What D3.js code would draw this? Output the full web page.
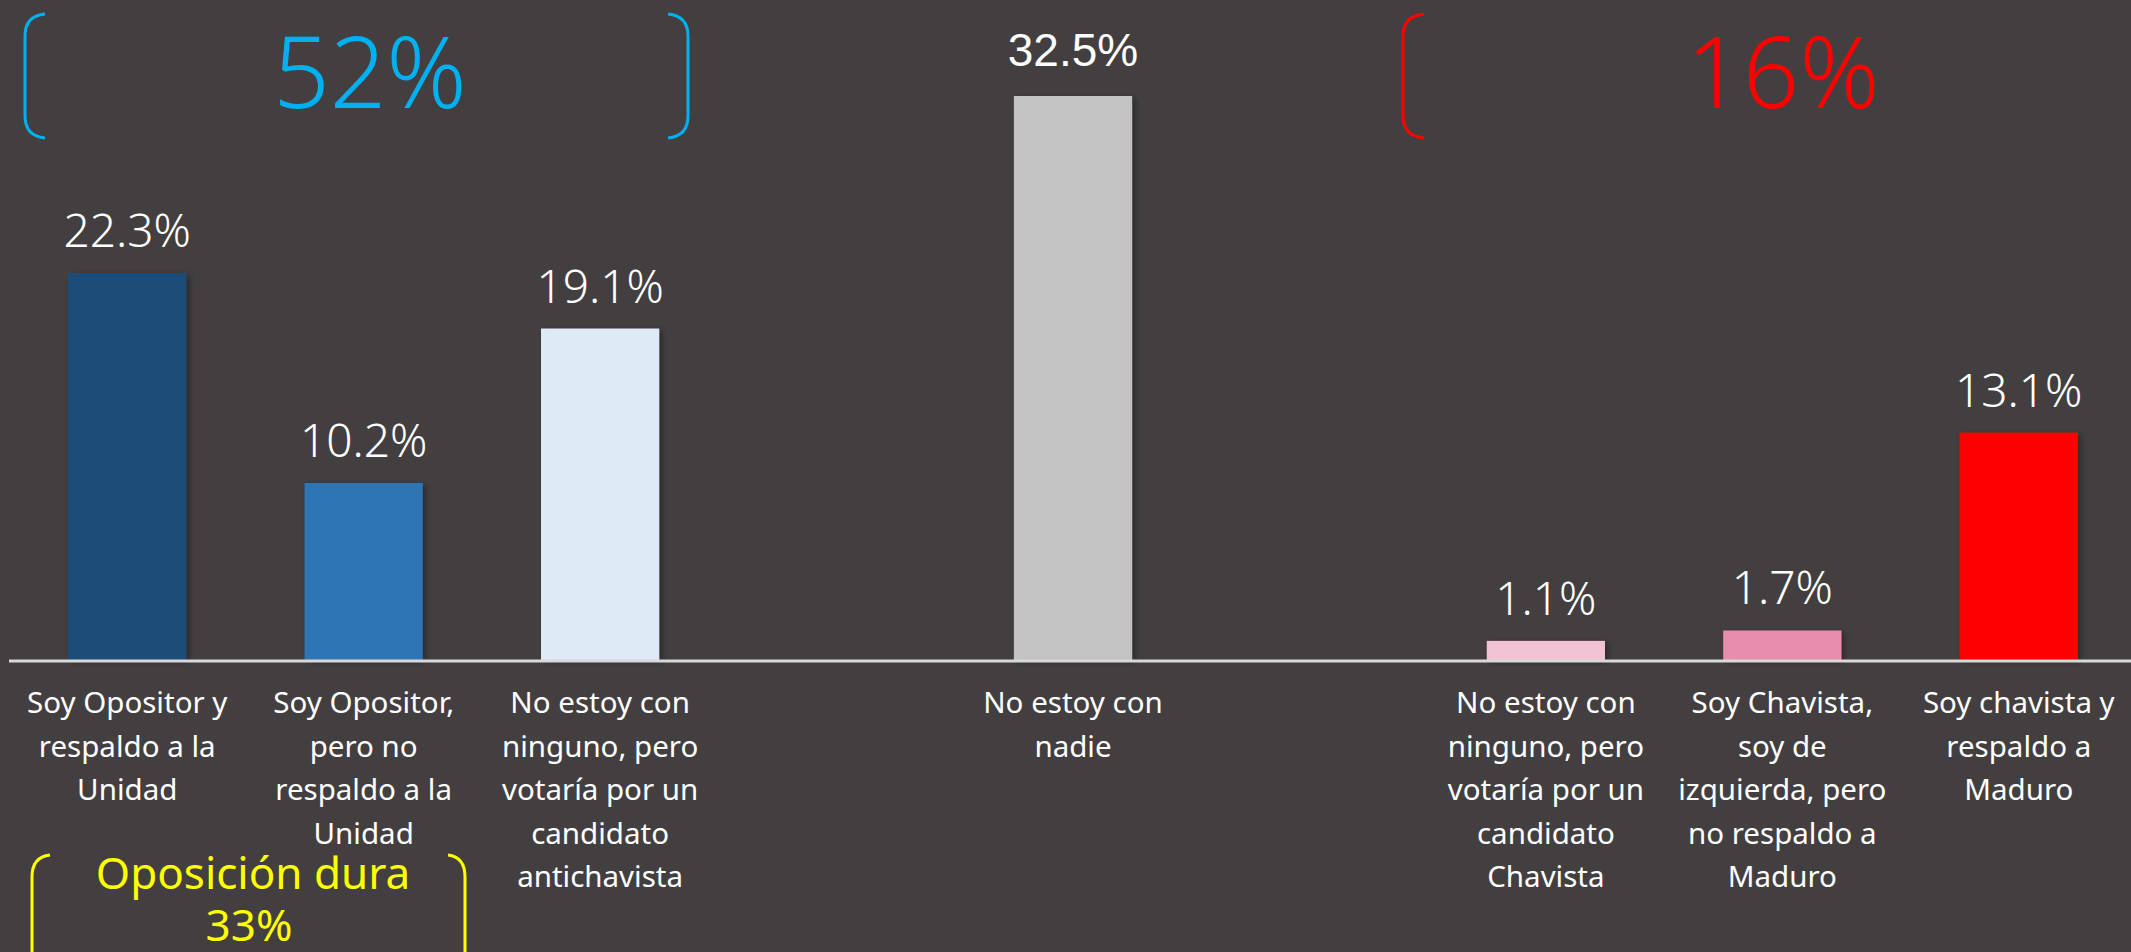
<!DOCTYPE html>
<html>
<head>
<meta charset="utf-8">
<script src="https://cdn.jsdelivr.net/npm/d3@7"></script>
<style>
  html, body { margin: 0; padding: 0; background: #433F40; }
  svg { display: block; }
</style>
</head>
<body>
<svg id="chart" width="2131" height="952"></svg>
<script>
// ---- data ----
const categories = [
  "Soy Opositor y|respaldo a la|Unidad",
  "Soy Opositor,|pero no|respaldo a la|Unidad",
  "No estoy con|ninguno, pero|votaría por un|candidato|antichavista",
  "No estoy con|nadie",
  "No estoy con|ninguno, pero|votaría por un|candidato|Chavista",
  "Soy Chavista,|soy de|izquierda, pero|no respaldo a|Maduro",
  "Soy chavista y|respaldo a|Maduro"
];
const values = [22.3, 10.2, 19.1, 32.5, 1.1, 1.7, 13.1];
const slotPositions = [0, 1, 2, 4, 6, 7, 8];   // gaps between groups
const slotCount = 9;
const barColors = ["#1F4E79", "#2E75B6", "#DEEBF7", "#C3C3C3", "#F2C3D5", "#E98DAF", "#FF0000"];
const groupTotals = ["52%", "16%"];
const hardLabel = ["Oposición dura", "33%"];

// ---- layout ----
const svg = d3.select("#chart");
const baseY = 660;

const x = d3.scaleBand()
  .domain(d3.range(slotCount))
  .range([9, 2137])
  .paddingInner(0.5)
  .paddingOuter(0.25);

const y = d3.scaleLinear()
  .domain([0, 32.5])
  .range([baseY, 96]);

const data = values.map((v, i) => ({
  value: v, label: categories[i], slot: slotPositions[i], color: barColors[i], idx: i
}));

// shadow filter
const defs = svg.append("defs");
const f = defs.append("filter").attr("id", "sh").attr("x", "-20%").attr("y", "-20%").attr("width", "150%").attr("height", "150%");
f.append("feDropShadow").attr("dx", 3).attr("dy", 2).attr("stdDeviation", 3)
  .attr("flood-color", "#000").attr("flood-opacity", 0.35);

// bars
svg.append("g").selectAll("rect").data(data).enter().append("rect")
  .attr("x", d => x(d.slot))
  .attr("width", x.bandwidth())
  .attr("y", d => y(d.value))
  .attr("height", d => baseY - y(d.value))
  .attr("fill", d => d.color)
  .attr("filter", "url(#sh)");

// baseline axis
const axis = d3.axisBottom(x).tickSize(0).tickFormat("");
const axG = svg.append("g").attr("transform", `translate(0,${baseY + 1})`).call(axis);
axG.select(".domain").attr("stroke", "#D9D9D9").attr("stroke-width", 3)
  .attr("d", "M9,0H2131");

// value labels
svg.append("g").selectAll("text").data(data).enter().append("text")
  .attr("x", d => x(d.slot) + x.bandwidth() / 2)
  .attr("y", d => y(d.value) - (d.idx === 3 ? 30 : 26))
  .attr("text-anchor", "middle")
  .attr("fill", "#FFFFFF")
  .attr("font-family", d => d.idx === 3 ? "Liberation Sans, Arial, sans-serif" : "Noto Sans, sans-serif")
  .attr("font-weight", 300)
  .attr("font-size", 46)
  .text(d => d.value.toFixed(1) + "%");

// category labels
const catG = svg.append("g");
data.forEach(d => {
  const t = catG.append("text")
    .attr("text-anchor", "middle")
    .attr("fill", "#FFFFFF")
    .attr("font-family", "Noto Sans, sans-serif")
    .attr("font-size", 29.5);
  d.label.split("|").forEach((line, li) => {
    t.append("tspan")
      .attr("x", x(d.slot) + x.bandwidth() / 2)
      .attr("y", 713 + li * 43.6)
      .text(line);
  });
});

// brackets
function leftBracket(x0, x1, y0, y1) {
  const p = d3.path();
  const r = 22;
  p.moveTo(x1, y0);
  p.quadraticCurveTo(x0, y0 + 2, x0, y0 + r);
  p.lineTo(x0, y1 - r);
  p.quadraticCurveTo(x0, y1 - 2, x1, y1);
  return p.toString();
}
function rightBracket(x0, x1, y0, y1) {
  const p = d3.path();
  const r = 22;
  p.moveTo(x0, y0);
  p.quadraticCurveTo(x1, y0 + 2, x1, y0 + r);
  p.lineTo(x1, y1 - r);
  p.quadraticCurveTo(x1, y1 - 2, x0, y1);
  return p.toString();
}
const br = svg.append("g").attr("fill", "none").attr("stroke-width", 3);
br.append("path").attr("d", leftBracket(25, 45, 14, 138)).attr("stroke", "#00B0F0");
br.append("path").attr("d", rightBracket(668, 688, 14, 138)).attr("stroke", "#00B0F0");
br.append("path").attr("d", leftBracket(1403, 1424, 14, 138)).attr("stroke", "#FF0000");
br.append("path").attr("d", leftBracket(32, 50, 855, 975)).attr("stroke", "#FFFF00");
br.append("path").attr("d", rightBracket(448, 465, 855, 975)).attr("stroke", "#FFFF00");

// group totals
svg.append("text").attr("x", 370).attr("y", 108).attr("text-anchor", "middle")
  .attr("fill", "#00B0F0").attr("font-family", "Noto Sans, sans-serif").attr("font-weight", 300)
  .attr("font-size", 99).text(groupTotals[0]);
svg.append("text").attr("x", 1783).attr("y", 108).attr("text-anchor", "middle")
  .attr("fill", "#FF0000").attr("font-family", "Noto Sans, sans-serif").attr("font-weight", 300)
  .attr("font-size", 99).text(groupTotals[1]);

// hard opposition
const hl = svg.append("text").attr("text-anchor", "middle").attr("fill", "#FFFF00")
  .attr("font-family", "Noto Sans, sans-serif").attr("font-size", 44);
hl.append("tspan").attr("x", 253).attr("y", 889).text(hardLabel[0]);
hl.append("tspan").attr("x", 249).attr("y", 941).text(hardLabel[1]);
</script>
</body>
</html>
